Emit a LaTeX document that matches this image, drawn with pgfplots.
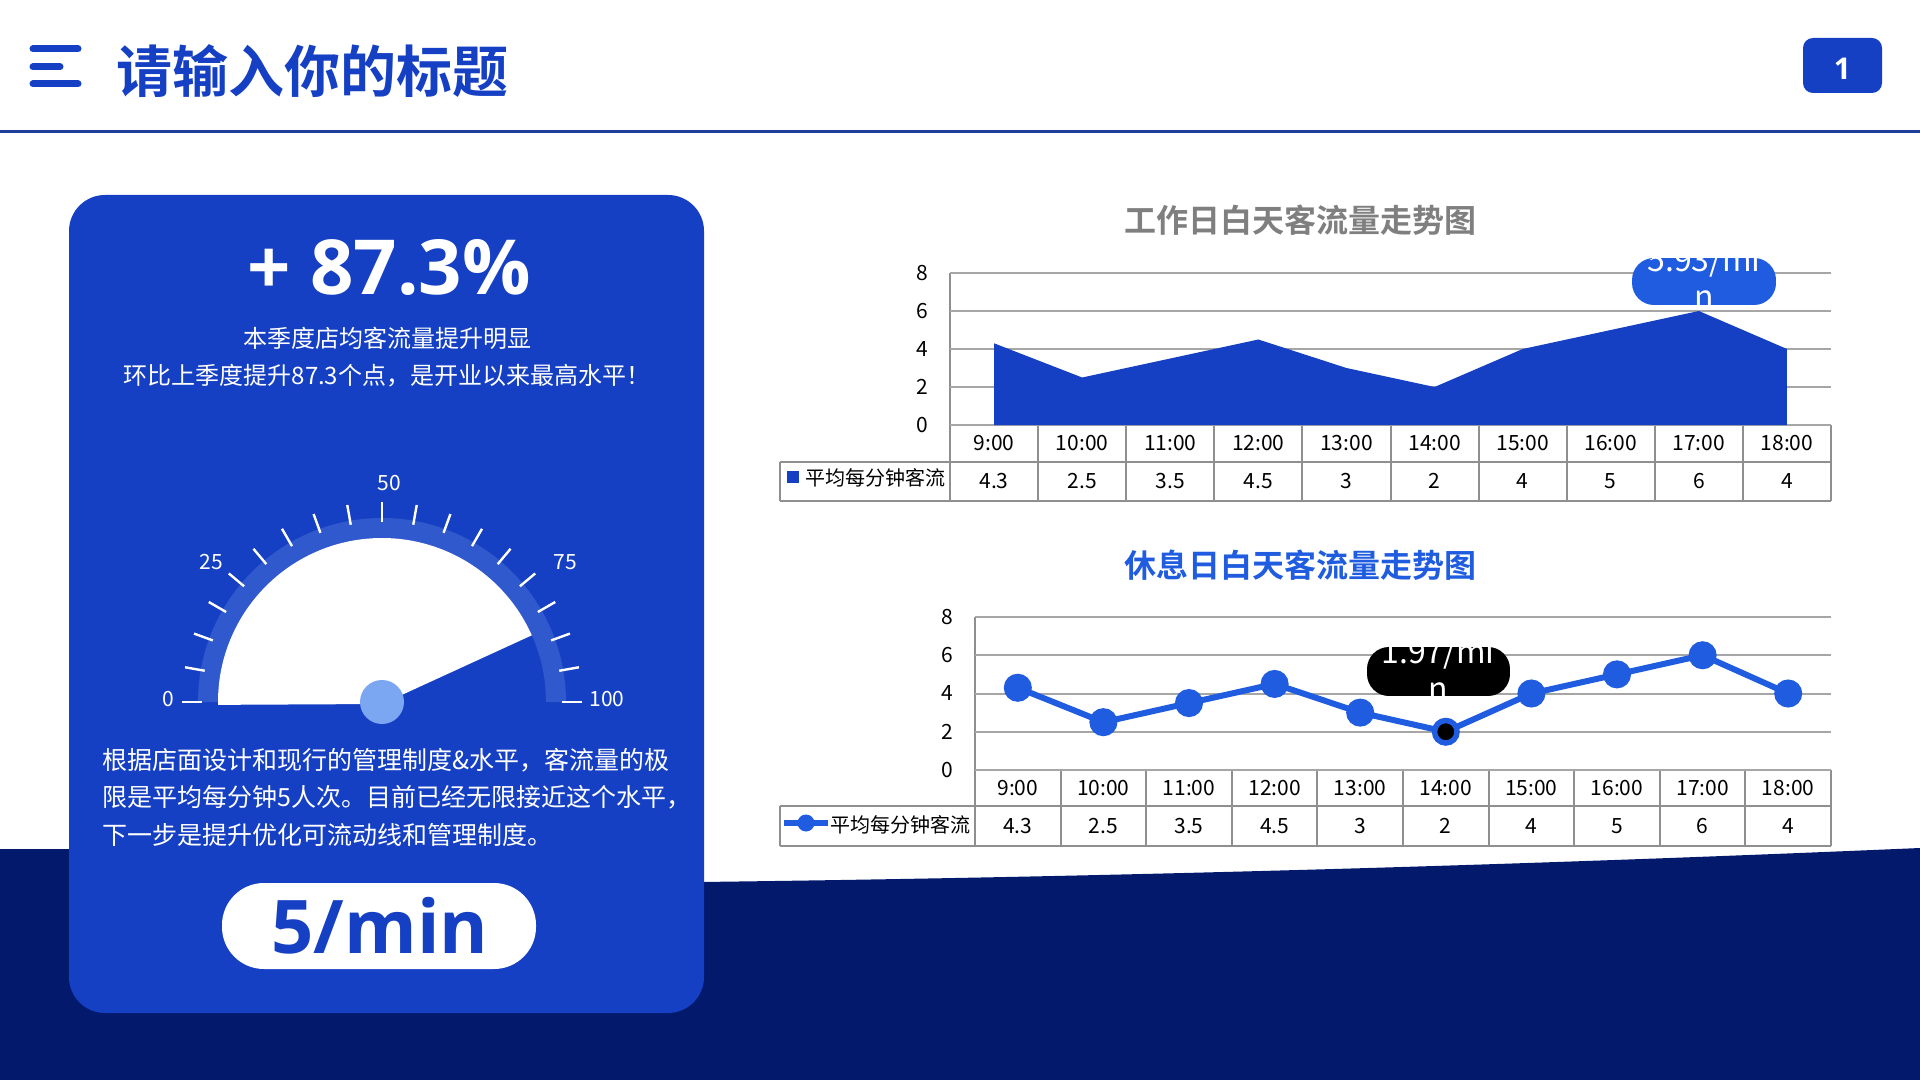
\documentclass[border=0pt]{standalone}
\usepackage{fontspec}
\usepackage{pgfplots}
\pgfplotsset{compat=1.18}
\setmainfont{Noto Sans CJK SC}[BoldFont={Noto Sans CJK SC Bold}]
\newfontfamily\os{Open Sans}
\definecolor{cardblue}{HTML}{1640C3}
\definecolor{navy}{HTML}{03196B}
\definecolor{band}{HTML}{2F59CC}
\definecolor{knob}{HTML}{7BA6F2}
\definecolor{lineblue}{HTML}{1F5CE0}
\definecolor{gridgray}{HTML}{A6A6A6}
\definecolor{tablegray}{HTML}{8F8F8F}
\definecolor{titlegray}{HTML}{7F7F7F}
\definecolor{rulecol}{HTML}{1D3F9B}
\pgfplotsset{slidechart/.style={
  scale only axis, anchor=south west,
  xmin=-0.5, xmax=9.5, ymin=0, ymax=8,
  ytick={0,2,4,6,8}, xtick={0,...,9},
  xticklabels={9:00,10:00,11:00,12:00,13:00,14:00,15:00,16:00,17:00,18:00},
  axis line style={draw=none}, major tick length=0pt,
  ymajorgrids, grid style={gridgray, line width=1pt},
  tick label style={font=\fontsize{10.5}{12}\selectfont, text=black},
  /pgf/number format/assume math mode=true,
  xticklabel style={anchor=center, yshift=-9pt},
  yticklabel style={xshift=-7.5pt},
  extra x ticks={0,...,9},
  extra x tick style={xticklabel style={yshift=-19pt}},
}}
\begin{document}
\begin{tikzpicture}[x=0.5pt,y=-0.5pt]
\useasboundingbox (0,0) rectangle (1920,1080);
\clip (0,0) rectangle (1920,1080);
\fill[white] (0,0) rectangle (1920,1080);
% navy wave
\fill[navy] (0,849) -- (69,849) -- (640,884) -- (700,882) .. controls (1100,877) and (1500,866) .. (1920,848) -- (1920,1080) -- (0,1080) -- cycle;
% header
\foreach \yy/\xe in {49/78,67/60,84/78} \draw[cardblue, line width=3.5pt, line cap=round] (33,\yy) -- (\xe,\yy);
\node[anchor=west, text=cardblue, font=\fontsize{28}{30}\selectfont\bfseries, inner sep=0pt] at (116,71) {请输入你的标题};
\draw[rulecol, line width=1.5pt] (0,132) -- (1920,132);
\fill[cardblue, rounded corners=5pt] (1803,38) rectangle (1882,93);
\node[white, font=\os\bfseries\fontsize{15}{16}\selectfont] at (1842.5,69) {1};
% card
\fill[cardblue, rounded corners=18pt] (69,195) rectangle (704,1013);
\node[white, font=\os\bfseries\fontsize{38}{40}\selectfont] at (389,267) {+ 87.3\%};
\node[white, font=\fontsize{12}{14}\selectfont] at (387,338) {本季度店均客流量提升明显};
\node[white, font=\fontsize{12}{14}\selectfont] at (387,376) {环比上季度提升87.3个点，是开业以来最高水平！};
% gauge
\begin{scope}[shift={(382,702)}, yscale=-1]
  \fill[band] (180:184) arc[start angle=180,end angle=0,radius=184] -- (0:164) arc[start angle=0,end angle=180,radius=164] -- cycle;
  \fill[white] (0,-2) -- (181:164) arc[start angle=181, end angle=24, radius=164] -- cycle;
  \foreach \a in {0,10,...,180} \draw[white, line width=1.2pt] (\a:180) -- (\a:200);
  \fill[knob] (0,0) circle (22);
\end{scope}
\foreach \lx/\ly/\lt in {168/699/0, 211/562/25, 389/483/50, 565/562/75, 607/699/100}
  \node[white, font=\fontsize{10.5}{12}\selectfont] at (\lx,\ly) {\lt};
% paragraph
\node[anchor=west, white, font=\fontsize{12.5}{14}\selectfont, inner sep=0pt] at (102,760) {根据店面设计和现行的管理制度\&水平，客流量的极};
\node[anchor=west, white, font=\fontsize{12.5}{14}\selectfont, inner sep=0pt] at (102,797) {限是平均每分钟5人次。目前已经无限接近这个水平，};
\node[anchor=west, white, font=\fontsize{12.5}{14}\selectfont, inner sep=0pt] at (102,835) {下一步是提升优化可流动线和管理制度。};
% pill
\fill[white, rounded corners=21pt] (222,883) rectangle (536,969);
\node[cardblue, font=\os\bfseries\fontsize{37}{40}\selectfont] at (380,926) {5/min};
% chart titles
\node[titlegray, font=\fontsize{16}{18}\selectfont\bfseries] at (1300,220) {工作日白天客流量走势图};
\node[lineblue, font=\fontsize{16}{18}\selectfont\bfseries] at (1300,565) {休息日白天客流量走势图};
% top table
\begin{scope}[tablegray, line width=1pt]
  \foreach \k in {1,...,10} \draw ({950+88.1*\k},425) -- ({950+88.1*\k},501);
  \draw (950,273) -- (950,501);
  \draw (950,425) -- (1831,425);
  \draw (780,462) -- (1831,462);
  \draw (780,501) -- (1831,501);
  \draw (780,462) -- (780,501);
\end{scope}
\fill[cardblue] (787,471) rectangle (799,483);
\node[anchor=west, inner sep=0pt, font=\fontsize{10}{12}\selectfont] at (805,478) {平均每分钟客流};
% bottom table
\begin{scope}[tablegray, line width=1pt]
  \foreach \k in {1,...,10} \draw ({975+85.6*\k},770) -- ({975+85.6*\k},846);
  \draw (975,617) -- (975,846);
  \draw (975,770) -- (1831,770);
  \draw (780,806) -- (1831,806);
  \draw (780,846) -- (1831,846);
  \draw (780,806) -- (780,846);
\end{scope}
\draw[lineblue, line width=3pt] (784,823) -- (828,823);
\fill[lineblue] (806,823) circle (8.5);
\node[anchor=west, inner sep=0pt, font=\fontsize{10}{12}\selectfont] at (830,825) {平均每分钟客流};
% top chart
\begin{axis}[slidechart, at={(475pt,-212.5pt)}, width=440.5pt, height=76pt,
  extra x tick labels={4.3,2.5,3.5,4.5,3,2,4,5,6,4}]
  \addplot[fill=cardblue, draw=none] coordinates {(0,4.3) (1,2.5) (2,3.5) (3,4.5) (4,3) (5,2) (6,4) (7,5) (8,6) (9,4)} \closedcycle;
\end{axis}
% bottom chart
\begin{axis}[slidechart, at={(487.5pt,-385pt)}, width=428pt, height=76.5pt,
  extra x tick labels={4.3,2.5,3.5,4.5,3,2,4,5,6,4}]
  \addplot[color=lineblue, line width=3pt, mark=*, mark size=5.5pt, mark options={fill=lineblue, solid}] coordinates {(0,4.3) (1,2.5) (2,3.5) (3,4.5) (4,3) (5,2) (6,4) (7,5) (8,6) (9,4)};
  \addplot[only marks, mark=*, mark size=5pt, mark options={fill=black, draw=lineblue, line width=1.5pt}] coordinates {(5,2)};
\end{axis}
% data labels
\begin{scope}
  \path[clip, rounded corners=11pt] (1632,258) rectangle (1776,305);
  \fill[lineblue] (1632,258) rectangle (1776,305);
  \node[white, font=\fontsize{16}{18}\selectfont] at (1704,262) {5.93/mi};
  \node[white, font=\fontsize{16}{18}\selectfont] at (1704,300) {n};
\end{scope}
\begin{scope}
  \path[clip, rounded corners=11pt] (1367,647) rectangle (1510,696);
  \fill[black] (1367,647) rectangle (1510,696);
  \node[white, font=\fontsize{16}{18}\selectfont] at (1438,654) {1.97/mi};
  \node[white, font=\fontsize{16}{18}\selectfont] at (1438,692) {n};
\end{scope}
\end{tikzpicture}
\end{document}
